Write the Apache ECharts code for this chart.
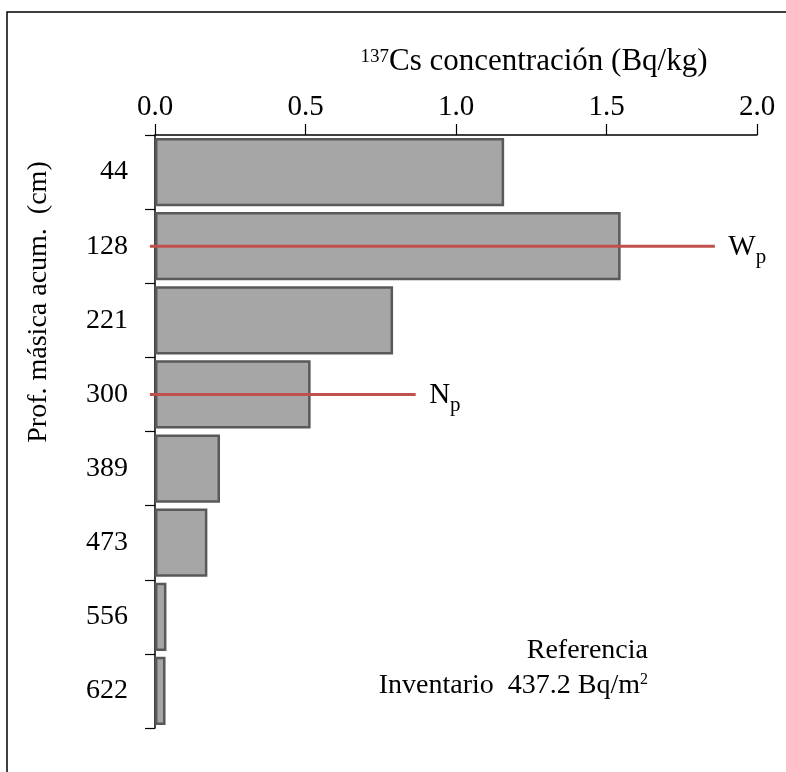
<!DOCTYPE html>
<html>
<head>
<meta charset="utf-8">
<script src="https://cdn.jsdelivr.net/npm/echarts@6/dist/echarts.min.js"></script>
<style>
html,body{margin:0;padding:0;background:#fff;}
#chart{width:786px;height:772px;}
</style>
</head>
<body>
<div id="chart"></div>
<script>
// ---- data ----
const categories = ['44', '128', '221', '300', '389', '473', '556', '622'];
const concentration = [1.16, 1.547, 0.791, 0.517, 0.216, 0.174, 0.038, 0.035];
const wpLine = { category: '128', start: -0.017, end: 1.86 };
const npLine = { category: '300', start: -0.017, end: 0.866 };
const xTickMin = 0, xTickMax = 2.0, xTickStep = 0.5;

const FONT = 'Liberation Serif';
const chart = echarts.init(document.getElementById('chart'), null, { renderer: 'canvas' });

const subRich = {
  a: { fontFamily: FONT, fontSize: 29, color: '#000', lineHeight: 30 },
  b: { fontFamily: FONT, fontSize: 21, color: '#000', lineHeight: 22, padding: [20, 0, 0, 0] }
};

function refLine(name, spec, labelText) {
  return {
    type: 'line',
    name: name,
    data: [
      [spec.start, spec.category],
      {
        value: [spec.end, spec.category],
        label: { show: true, position: 'right', distance: 13, offset: [0, 1], formatter: labelText, rich: subRich, color: '#000' }
      }
    ],
    symbol: 'circle',
    symbolSize: 1,
    showSymbol: true,
    clip: false,
    z: 5,
    itemStyle: { color: 'rgba(0,0,0,0)', borderWidth: 0 },
    lineStyle: { color: '#c0504d', width: 3 },
    label: { show: false }
  };
}

const option = {
  animation: false,
  backgroundColor: '#fff',
  grid: { left: 155, right: 29, top: 135, bottom: 44 },
  xAxis: {
    type: 'value',
    position: 'top',
    min: xTickMin,
    max: xTickMax,
    interval: xTickStep,
    splitLine: { show: false },
    axisLine: { show: true, lineStyle: { color: '#000', width: 1.5 } },
    axisTick: { show: true, length: 11, lineStyle: { color: '#000', width: 1.2 } },
    axisLabel: {
      margin: 13,
      fontFamily: FONT, fontSize: 29, color: '#000',
      formatter: v => v.toFixed(1)
    }
  },
  yAxis: {
    type: 'category',
    data: categories,
    inverse: true,
    axisLine: { show: true, lineStyle: { color: '#000', width: 1.5 } },
    axisTick: { show: true, length: 10, lineStyle: { color: '#000', width: 1.2 } },
    axisLabel: { margin: 27, fontFamily: FONT, fontSize: 28, color: '#000' }
  },
  series: [
    {
      type: 'bar',
      data: concentration,
      barCategoryGap: '8%',
      itemStyle: { color: '#a6a6a6', borderColor: '#595959', borderWidth: 2.5 },
      z: 2
    },
    refLine('Wp', wpLine, '{a|W}{b|p}'),
    refLine('Np', npLine, '{a|N}{b|p}')
  ],
  graphic: [
    {
      type: 'rect',
      shape: { x: 7, y: 12, width: 900, height: 900 },
      style: { fill: 'none', stroke: '#000', lineWidth: 1.5 },
      silent: true, z: 0
    },
    {
      type: 'text',
      x: 534, y: 62,
      style: {
        text: '{s|137}{a|Cs concentración (Bq/kg)}',
        align: 'center', verticalAlign: 'middle',
        rich: {
          s: { fontFamily: FONT, fontSize: 19, color: '#000', lineHeight: 12, verticalAlign: 'top' },
          a: { fontFamily: FONT, fontSize: 31, color: '#000', lineHeight: 28 }
        }
      }
    },
    {
      type: 'text',
      x: 39, y: 302,
      rotation: Math.PI / 2,
      style: {
        text: 'Prof. másica acum.  (cm)',
        fontFamily: FONT, fontSize: 28, fill: '#000',
        align: 'center', verticalAlign: 'middle'
      }
    },
    {
      type: 'text',
      x: 648, y: 651,
      style: {
        text: 'Referencia',
        fontFamily: FONT, fontSize: 28, fill: '#000',
        align: 'right', verticalAlign: 'middle'
      }
    },
    {
      type: 'text',
      x: 648, y: 686,
      style: {
        text: '{a|Inventario  437.2 Bq/m}{s|2}',
        align: 'right', verticalAlign: 'middle',
        rich: {
          a: { fontFamily: FONT, fontSize: 28, color: '#000', lineHeight: 28 },
          s: { fontFamily: FONT, fontSize: 16, color: '#000', lineHeight: 16, verticalAlign: 'top' }
        }
      }
    }
  ]
};
chart.setOption(option);
</script>
</body>
</html>
